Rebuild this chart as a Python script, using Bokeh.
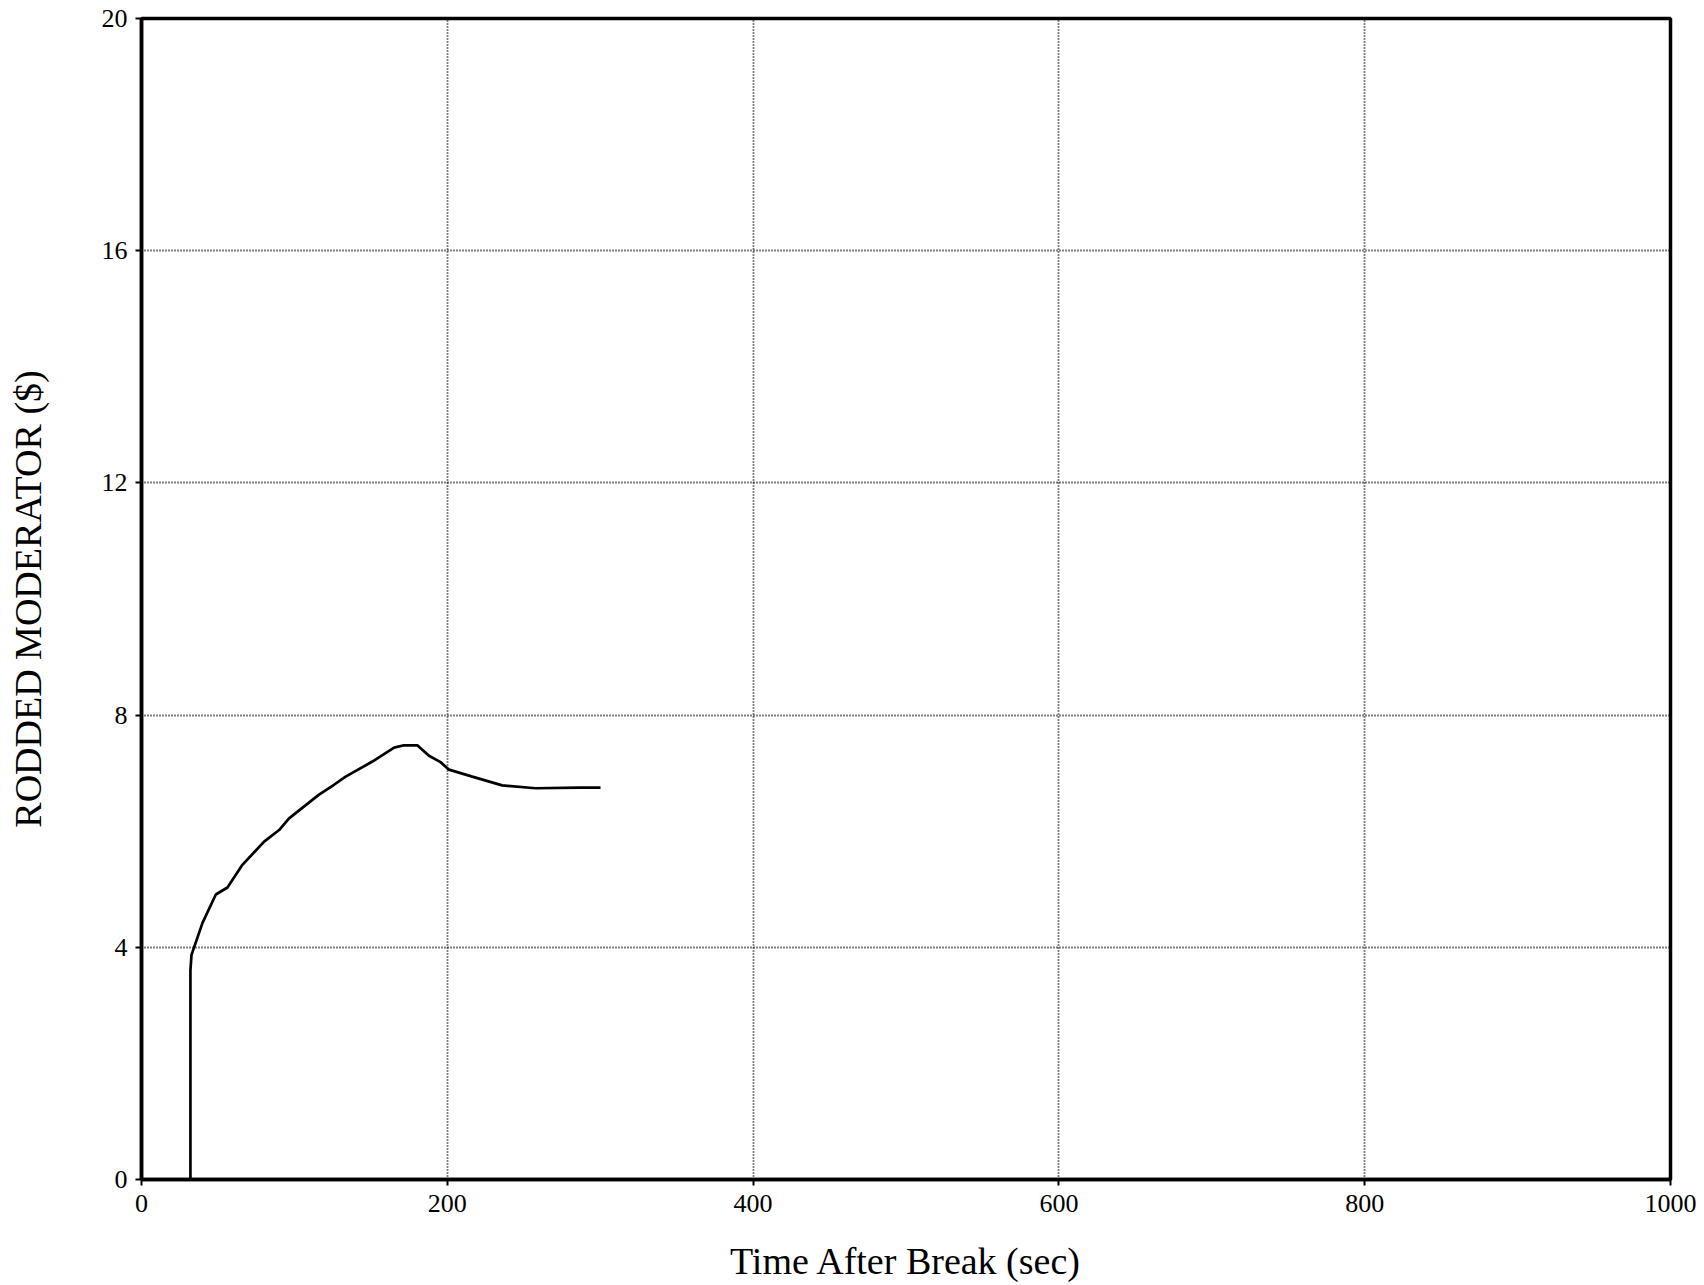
from bokeh.plotting import figure
from bokeh.models import FixedTicker, Range1d
from bokeh.embed import file_html
from bokeh.resources import INLINE

# Data
time_s = [32, 32, 32.7, 39.9, 48.6, 56.2, 66.0, 80.2, 90.0, 96.5, 116.1, 125.9,
          133.5, 151.0, 165.2, 171.7, 180.4, 188.0, 195.6, 201.1, 216.3, 235.9,
          257.7, 286.1, 300.2]
rodded_moderator = [0.0, 3.6, 3.87, 4.42, 4.91, 5.03, 5.42, 5.82, 6.02, 6.22, 6.63, 6.80,
                    6.94, 7.20, 7.44, 7.48, 7.48, 7.30, 7.19, 7.06, 6.94, 6.79,
                    6.74, 6.75, 6.75]
x_ticks = [0, 200, 400, 600, 800, 1000]
y_ticks = [0, 4, 8, 12, 16, 20]

FONT = "Liberation Serif"

p = figure(width=1700, height=1284, output_backend="svg", toolbar_location=None,
           x_range=Range1d(0, 1000), y_range=Range1d(0, 20),
           min_border_left=141, min_border_right=30, min_border_top=18,
           min_border_bottom=100)

p.line(time_s, rodded_moderator, line_color="black", line_width=2.7)

p.xaxis.ticker = FixedTicker(ticks=x_ticks)
p.yaxis.ticker = FixedTicker(ticks=y_ticks)
p.xaxis.axis_label = "Time After Break (sec)"
p.yaxis.axis_label = "RODDED MODERATOR ($)"

for ax in (p.xaxis, p.yaxis):
    ax.axis_line_width = 3.5
    ax.axis_line_color = "black"
    ax.major_tick_out = 6
    ax.major_tick_in = 0
    ax.major_tick_line_width = 2
    ax.major_tick_line_color = "black"
    ax.minor_tick_line_color = None
    ax.major_label_text_font = FONT
    ax.major_label_text_font_size = "26px"
    ax.major_label_text_color = "black"
    ax.axis_label_text_font = FONT
    ax.axis_label_text_font_size = "38px"
    ax.axis_label_text_font_style = "normal"
    ax.axis_label_text_color = "black"

p.xaxis.major_label_standoff = 9
p.xaxis.axis_label_standoff = 25
p.yaxis.major_label_standoff = 8
p.yaxis.axis_label_standoff = 50

p.outline_line_color = "black"
p.outline_line_width = 3.5
p.outline_line_alpha = 1

for g in (p.xgrid, p.ygrid):
    g.grid_line_color = "black"
    g.grid_line_dash = "1 2"
    g.grid_line_width = 1.8
    g.grid_line_alpha = 1

p.background_fill_color = "white"
p.border_fill_color = "white"

open("out.html", "w").write(file_html(p, INLINE))
